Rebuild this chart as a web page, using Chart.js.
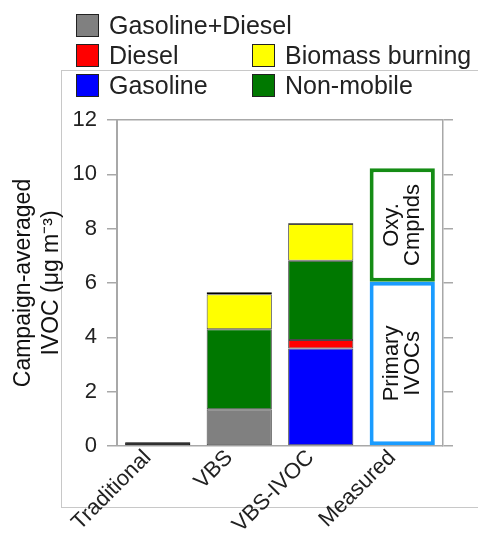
<!DOCTYPE html>
<html>
<head>
<meta charset="utf-8">
<script src="https://cdn.jsdelivr.net/npm/chart.js@4.4.1/dist/chart.umd.min.js"></script>
<style>
  body { margin: 0; background: #fff; font-family: "Liberation Sans", Arial, sans-serif; }
  #wrap { position: relative; width: 478px; height: 539px; overflow: hidden; }
  #frame { position: absolute; left: 61px; top: 70px; width: 440px; height: 436px; border: 1px solid #c8c8c8; }
  .item { position: absolute; display: flex; align-items: center; font-size: 25px; color: #222; white-space: nowrap; }
  .sw { width: 21px; height: 21px; border: 1.5px solid #222; margin-right: 10px; }
  canvas { position: absolute; left: 0; top: 0; }
</style>
</head>
<body>
<div id="wrap">
  <div id="frame"></div>
  <canvas id="ivocChart" width="478" height="539"></canvas>
  <div id="legend"></div>
</div>
<script>
// values (ug m-3)
const categories = ["Traditional", "VBS", "VBS-IVOC", "Measured"];
const gasolineDiesel = [null, 1.35, null, null];
const gasoline = [null, null, 3.59, null];
const diesel = [null, null, 0.31, null];
const nonMobile = [null, 2.95, 2.92, null];
const biomassBurning = [null, 1.29, 1.35, null];
const traditional = [0.14, 0.07, 0.03, null];
const primaryIvocs = [null, null, null, 6.05];
const oxyCompounds = [null, null, null, 4.17];
const yTicks = [0, 2, 4, 6, 8, 10, 12];

const legendRows = [
    ["Gasoline+Diesel"],
    ["Diesel", "Biomass burning"],
    ["Gasoline", "Non-mobile"],
];

const edge = "rgba(40, 40, 40, 0.85)";
const axisGrey = "#a8a8a8";

function stackPart(label, data, color) {
    return {
        label: label,
        data: data,
        backgroundColor: color,
        borderColor: edge,
        borderWidth: 1,
        borderSkipped: false,
        stack: "all",
    };
}

const datasets = [
    stackPart("Gasoline+Diesel", gasolineDiesel, "#808080"),
    stackPart("Gasoline", gasoline, "#0000ff"),
    stackPart("Diesel", diesel, "#ff0000"),
    stackPart("Non-mobile", nonMobile, "#007800"),
    stackPart("Biomass burning", biomassBurning, "#ffff00"),
    Object.assign(stackPart("Traditional", traditional, "#000000"), { borderColor: "#000" }),
    {
        label: "Primary IVOCs",
        data: primaryIvocs,
        backgroundColor: "#fff",
        borderColor: "#1a9cff",
        borderWidth: 4,
        borderSkipped: false,
        stack: "all",
        boxText: ["Primary", "IVOCs"],
    },
    {
        label: "Oxy. Cmpnds",
        data: oxyCompounds,
        backgroundColor: "#fff",
        borderColor: "#158c15",
        borderWidth: 4,
        borderSkipped: false,
        stack: "all",
        boxText: ["Oxy.", "Cmpnds"],
    },
];

function buildLegend() {
    const box = document.getElementById("legend");
    legendRows.forEach((row, r) => {
        row.forEach((label, c) => {
            const ds = datasets.find((d) => d.label === label);
            const item = document.createElement("div");
            item.className = "item";
            item.style.left = (76 + c * 176) + "px";
            item.style.top = (11 + r * 30) + "px";
            const sw = document.createElement("span");
            sw.className = "sw";
            sw.style.background = ds.backgroundColor;
            item.appendChild(sw);
            item.appendChild(document.createTextNode(label));
            box.appendChild(item);
        });
    });
}

const boxLabels = {
    id: "boxLabels",
    afterDatasetsDraw(chart) {
        const ctx = chart.ctx;
        chart.data.datasets.forEach((ds, i) => {
            if (!ds.boxText) return;
            chart.getDatasetMeta(i).data.forEach((bar, j) => {
                if (ds.data[j] == null) return;
                ctx.save();
                ctx.translate(bar.x, (bar.y + bar.base) / 2);
                ctx.rotate(-Math.PI / 2);
                ctx.font = '22px "Liberation Sans", Arial, sans-serif';
                ctx.fillStyle = "#111";
                ctx.textAlign = "center";
                ctx.textBaseline = "middle";
                ds.boxText.forEach((t, k) => {
                    ctx.fillText(t, 0, (k - (ds.boxText.length - 1) / 2) * 21);
                });
                ctx.restore();
            });
        });
    },
};

buildLegend();

new Chart(document.getElementById("ivocChart"), {
    type: "bar",
    data: { labels: categories, datasets: datasets },
    options: {
        responsive: false,
        animation: false,
        devicePixelRatio: 1,
        layout: { padding: { top: 120, right: 25, left: 0, bottom: 0 } },
        categoryPercentage: 1,
        barPercentage: 0.8,
        plugins: { legend: { display: false }, tooltip: { enabled: false } },
        scales: {
            x: {
                stacked: true,
                grid: { display: false },
                border: { display: false },
                ticks: {
                    color: "#222",
                    font: { size: 22, family: "Liberation Sans" },
                    minRotation: 45,
                    maxRotation: 45,
                    padding: -9,
                    labelOffset: -10,
                },
                afterFit: (scale) => { scale.height = 93; },
            },
            y: {
                stacked: true,
                min: 0,
                max: 12,
                afterBuildTicks: (scale) => { scale.ticks = yTicks.map((v) => ({ value: v })); },
                grid: {
                    color: (c) => (c.tick && (c.tick.value === 0 || c.tick.value === 12) ? axisGrey : "rgba(0,0,0,0)"),
                    tickColor: axisGrey,
                    tickLength: 10,
                    lineWidth: 1.5,
                },
                border: { color: axisGrey, width: 2 },
                ticks: {
                    color: "#222",
                    font: { size: 22, family: "Liberation Sans" },
                    padding: 10,
                },
                title: {
                    display: true,
                    text: ["Campaign-averaged", "IVOC (\u03bcg m\u207b\u00b3)"],
                    color: "#111",
                    font: { size: 23, family: "Liberation Sans" },
                    padding: { top: 10, bottom: 0 },
                },
                afterFit: (scale) => { scale.width = 117; },
            },
            y2: {
                position: "right",
                min: 0,
                max: 12,
                afterBuildTicks: (scale) => { scale.ticks = yTicks.map((v) => ({ value: v })); },
                grid: { color: "rgba(0,0,0,0)", tickColor: axisGrey, tickLength: 10, lineWidth: 1.5 },
                border: { color: axisGrey, width: 1.5 },
                ticks: { display: false },
                afterFit: (scale) => { scale.width = 10; },
            },
        },
    },
    plugins: [boxLabels],
});
</script>
</body>
</html>
